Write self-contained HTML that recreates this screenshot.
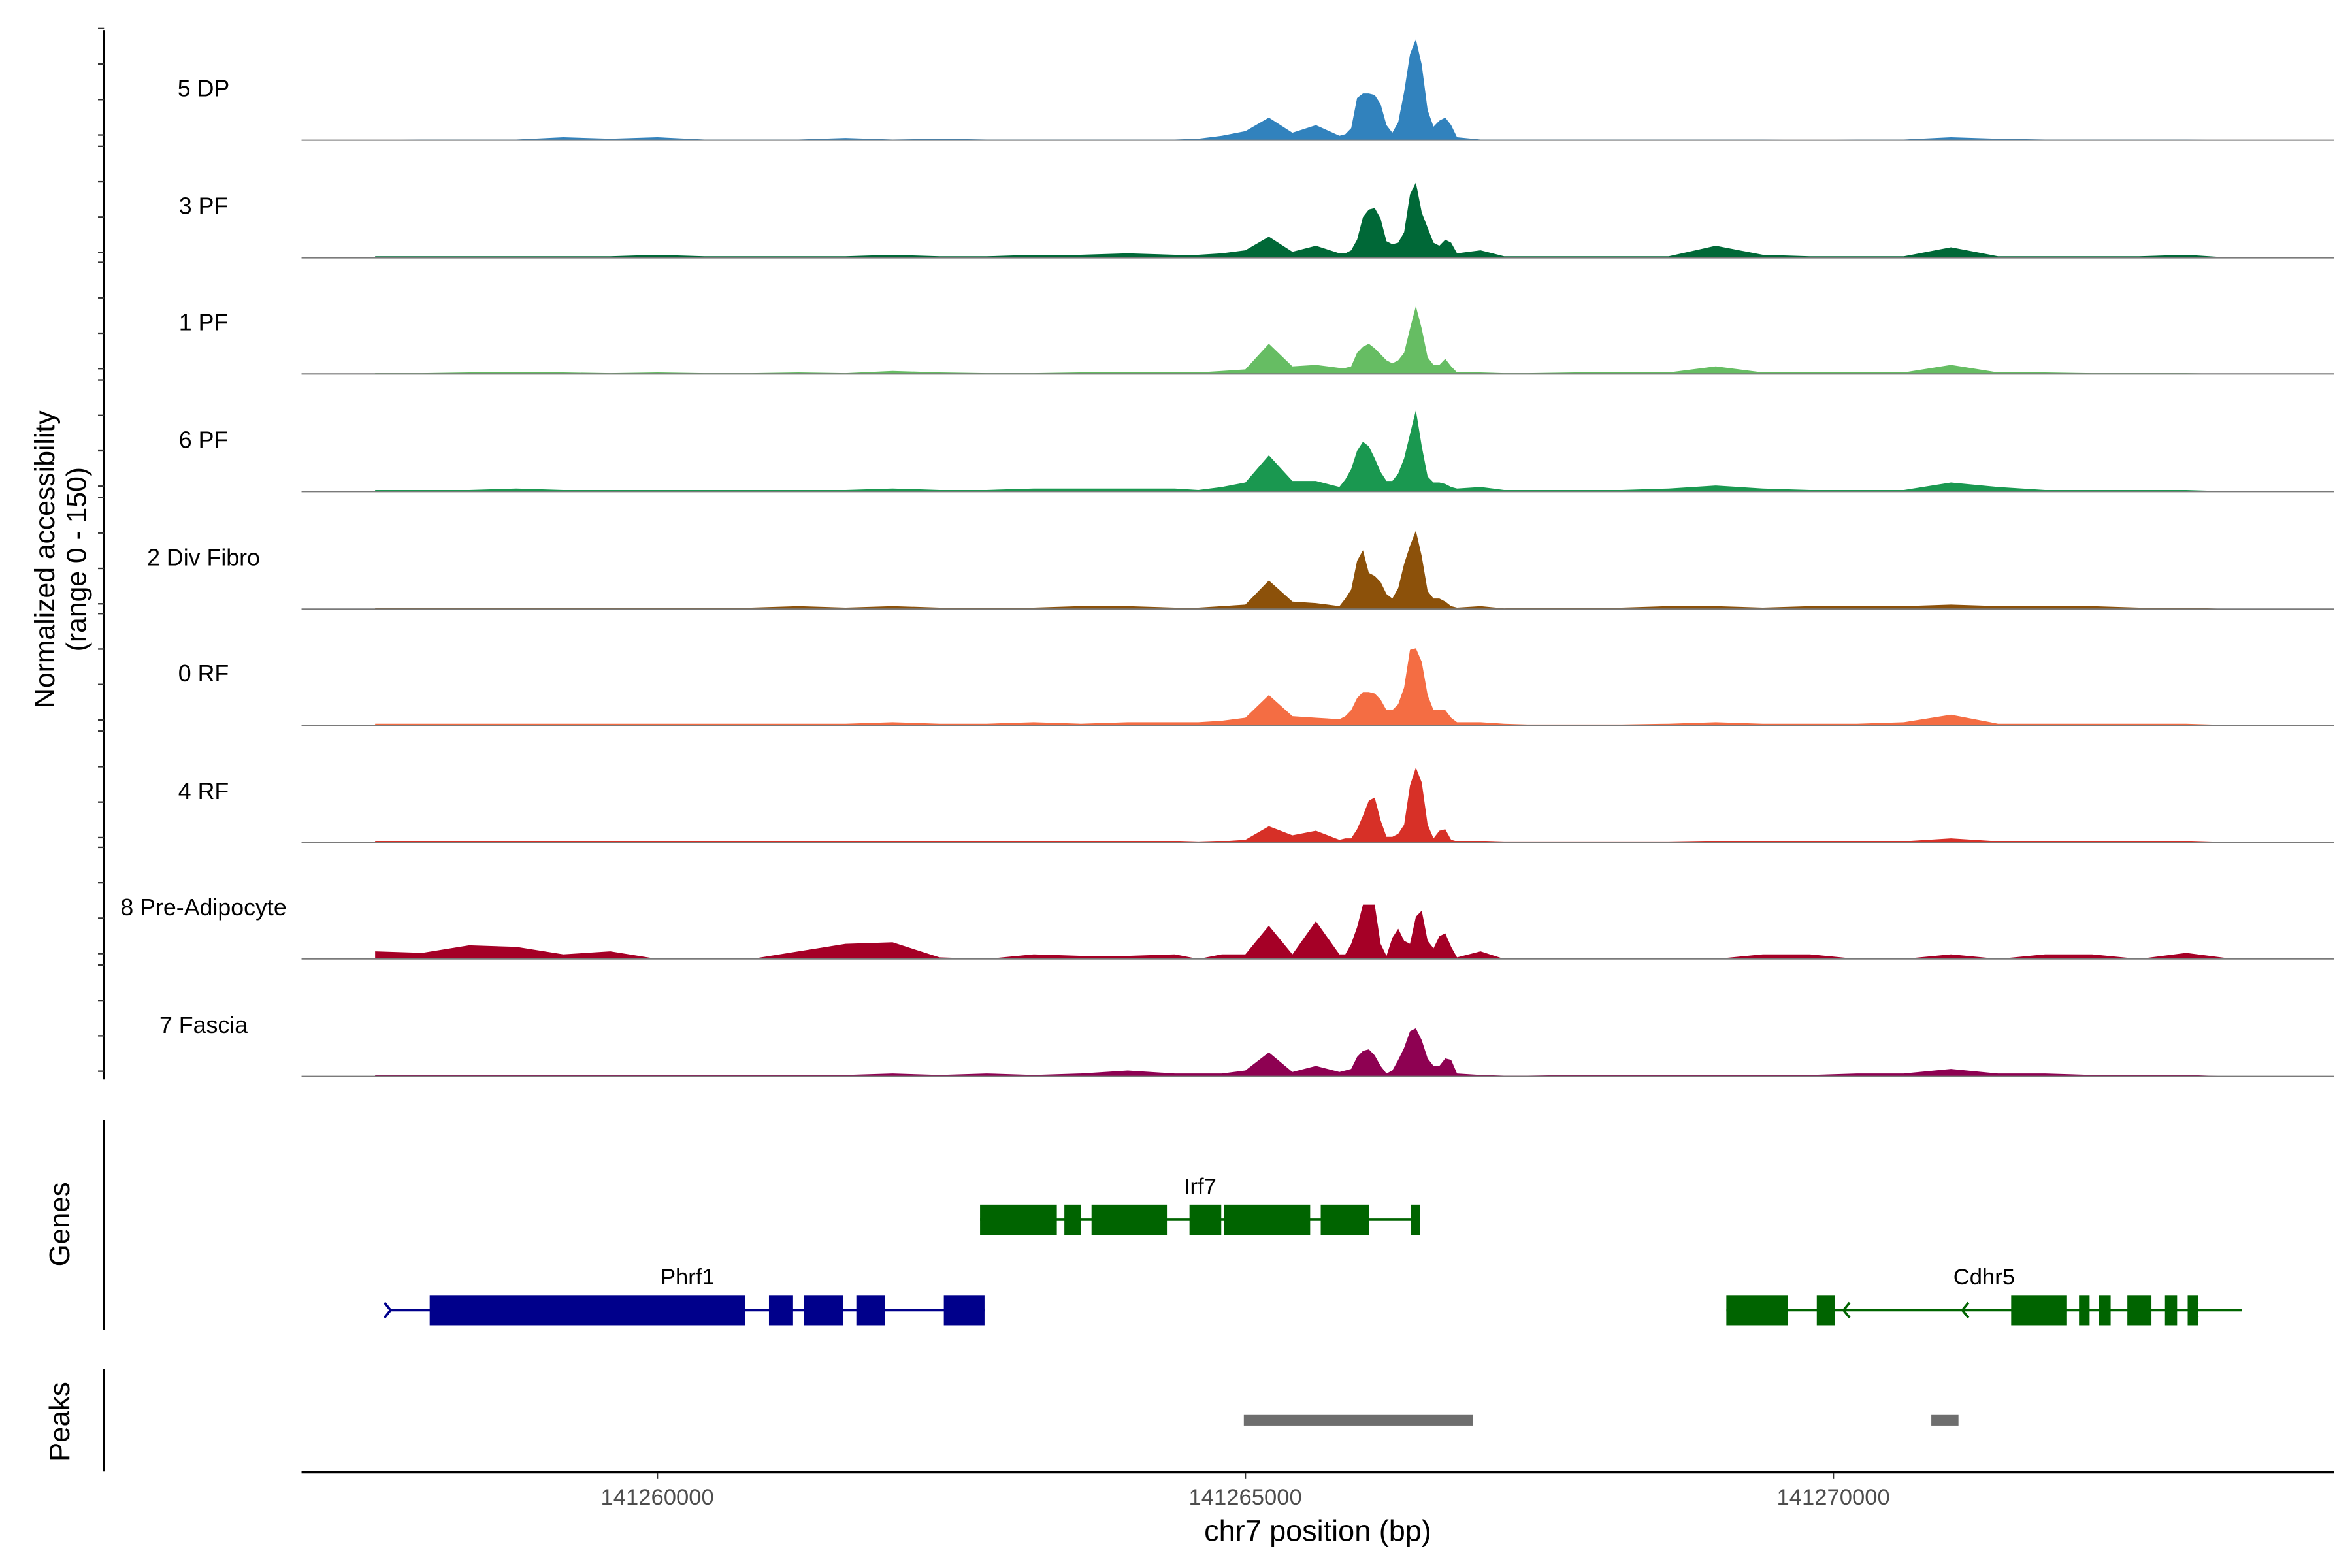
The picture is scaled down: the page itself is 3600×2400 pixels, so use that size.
<!DOCTYPE html>
<html><head><meta charset="utf-8">
<style>
html,body{margin:0;padding:0;background:#fff;}
svg{display:block;}
text{font-family:"Liberation Sans",Arial,sans-serif;}
</style></head>
<body>
<svg id="chart" xmlns="http://www.w3.org/2000/svg" width="3600" height="2400" viewBox="0 0 1560 1040">
<rect x="0" y="0" width="1560" height="1040" fill="#fff"/>
</svg>
<script>
// ---- data ----
const START = 141257600;
const positions = [
 0,400,800,1200,1600,2000,2400,2800,3200,3600,4000,4400,4800,5200,5600,6000,6400,6800,
 7000,7200,7400,7600,7800,8000,
 8200,8250,8300,8350,8400,8450,8500,8550,8600,8650,8700,8750,8800,8850,8900,8950,9000,9050,9100,9150,9200,
 9400,9600,9800,
 10200,10600,11000,11400,11800,12200,12600,13000,13400,13800,14200,14600,15000,15400,15800,16200
];
const trackNames = ["5 DP","3 PF","1 PF","6 PF","2 Div Fibro","0 RF","4 RF","8 Pre-Adipocyte","7 Fascia"];
const trackColors = ["#3182bd","#006837","#66bd63","#1a9850","#8c510a","#f46d43","#d73027","#a50026","#8e0152"];
const dp5 = [0,1,1,1,4,2,4,1,1,1,3,1,2,1,1,1,1,1, 2,6,12,30,10,20, 6,8,16,56,62,62,60,48,20,10,24,64,114,134,100,40,18,26,30,20,4, 1,1,1, 1,1,1,1,1,0,1,1,4,2,1,1,1,1,0,0];
const pf3 = [2,2,2,2,2,2,4,2,2,2,2,4,2,2,4,4,6,4, 4,6,10,28,8,16, 6,6,10,24,54,64,66,52,22,18,20,34,84,100,60,40,20,16,24,20,6, 10,2,2, 2,2,2,16,4,2,2,2,14,2,2,2,2,4,0,0];
const pf1 = [1,1,2,2,2,1,2,1,1,2,1,4,2,1,1,2,2,2, 2,4,6,40,10,12, 8,8,10,28,36,40,34,26,18,14,18,28,60,90,60,22,12,12,20,10,2, 2,1,1, 2,2,2,10,2,2,2,2,12,2,2,1,1,1,0,0];
const pf6 = [2,2,2,4,2,2,2,2,2,2,2,4,2,2,4,4,4,4, 2,6,12,48,14,14, 6,16,30,54,66,60,44,26,14,14,24,44,76,108,60,20,12,12,10,6,4, 6,2,2, 2,2,4,8,4,2,2,2,12,6,2,2,2,2,0,0];
const divfibro2 = [2,2,2,2,2,2,2,2,2,4,2,4,2,2,2,4,4,2, 2,4,6,38,10,8, 4,14,26,64,78,48,44,36,20,14,28,60,84,104,70,24,14,14,10,4,2, 4,1,2, 2,2,4,4,2,4,4,4,6,4,4,4,2,2,0,0];
const rf0 = [2,2,2,2,2,2,2,2,2,2,2,4,2,2,4,2,4,4, 4,6,10,40,12,10, 8,12,20,36,44,44,42,34,20,20,28,50,100,102,84,40,20,20,20,10,4, 4,2,1, 1,1,2,4,2,2,2,4,14,2,2,2,2,2,0,0];
const rf4 = [2,2,2,2,2,2,2,2,2,2,2,2,2,2,2,2,2,2, 1,2,4,22,10,16, 4,6,6,18,36,56,60,30,8,8,12,24,76,100,80,24,6,16,18,4,2, 2,1,1, 1,1,1,2,2,2,2,2,6,2,2,2,2,2,0,0];
const preadipo8 = [10,8,18,16,6,10,0,0,0,10,20,22,2,0,6,4,4,6, 0,6,6,44,6,50, 6,6,20,42,72,72,72,20,4,28,40,24,20,56,64,24,14,30,34,16,2, 10,0,0, 0,0,0,0,6,6,0,0,6,0,6,6,0,8,0,0];
const fascia7 = [2,2,2,2,2,2,2,2,2,2,2,4,2,4,2,4,8,4, 4,4,8,32,6,14, 6,8,10,26,34,36,28,14,4,8,22,38,60,64,48,24,14,14,24,22,4, 2,1,1, 2,2,2,2,2,2,4,4,10,4,4,2,2,2,0,0];
const trackValues = [dp5,pf3,pf1,pf6,divfibro2,rf0,rf4,preadipo8,fascia7];

const xTicks = [141260000,141265000,141270000];
const xTickLabels = ["141260000","141265000","141270000"];

const geneNames = ["Irf7","Phrf1","Cdhr5"];
const geneColors = ["#006400","#00008b","#006400"];
const geneRows = [0,1,1];
const geneSpans = [[141262744,141266487],[141257718,141262782],[141269090,141273474]];
const irf7Exons = [[141262744,141263397],[141263461,141263602],[141263692,141264333],[141264525,141264795],[141264820,141265551],[141265641,141266051],[141266410,141266487]];
const phrf1Exons = [[141258064,141260744],[141260949,141261154],[141261244,141261577],[141261692,141261936],[141262436,141262782]];
const cdhr5Exons = [[141269090,141269615],[141269859,141270012],[141271512,141271987],[141272089,141272179],[141272256,141272358],[141272500,141272705],[141272820,141272923],[141273013,141273102]];
const geneExons = [irf7Exons,phrf1Exons,cdhr5Exons];
const geneArrowsFwd = [[],[141257718,141261757],[]];
const geneArrowsRev = [[],[],[141270100,141271110,141273060]];
const peakStarts = [141264987,141270833];
const peakEnds = [141266936,141271064];

// ---- scales ----
const NS = "http://www.w3.org/2000/svg";
const svg = document.getElementById("chart");
function xs(bp){ return 436 + (bp - 141260000) * 0.078; }
const YMAX = 150, TRACK_H = 75;
const baselines = [93,171,248,326,404,481,559,636,714];
function ys(v, i){ return baselines[i] - v / YMAX * TRACK_H; }
function mk(tag, attrs, parent){
  const e = document.createElementNS(NS, tag);
  for (const k in attrs) e.setAttribute(k, attrs[k]);
  (parent || svg).appendChild(e);
  return e;
}

// left axis for tracks
const ax = mk("line",{x1:69,y1:20,x2:69,y2:716,stroke:"#000","stroke-width":1.4});


baselines.forEach((b)=>{
  const top = b - 74;
  [0,23.5,47,70.5].forEach(o=>{
    const t = mk("line",{x1:65,y1:top+o,x2:69,y2:top+o,stroke:"#333","stroke-width":1});
    
    
  });
});
const yt1 = mk("text",{x:0,y:0,"font-size":18.5,"text-anchor":"middle",transform:"translate(36,371) rotate(-90)",fill:"#000"});
yt1.textContent = "Normalized accessibility";


const yt2 = mk("text",{x:0,y:0,"font-size":18.5,"text-anchor":"middle",transform:"translate(57,371) rotate(-90)",fill:"#000"});
yt2.textContent = "(range 0 - 150)";



// tracks
trackValues.forEach((vals,i)=>{
  const g = mk("g",{});
  
  
  let d = "M" + xs(START+positions[0]).toFixed(1) + "," + baselines[i];
  positions.forEach((p,j)=>{ d += " L" + xs(START+p).toFixed(1) + "," + ys(vals[j],i).toFixed(1); });
  d += " L" + xs(START+positions[positions.length-1]).toFixed(1) + "," + baselines[i] + " Z";
  const a = mk("path",{d:d,fill:trackColors[i],stroke:"none"},g);
  
  
  const bl = mk("line",{x1:200,y1:baselines[i],x2:1548,y2:baselines[i],stroke:"#7a7a7a","stroke-width":0.9},g);
  
  
  const lb = mk("text",{x:135,y:baselines[i]-29,"font-size":15.5,"text-anchor":"middle",fill:"#000"},g);
  lb.textContent = trackNames[i];
  
  
});

// genes panel
const gax = mk("line",{x1:69,y1:743,x2:69,y2:882,stroke:"#000","stroke-width":1.4});


const gt = mk("text",{x:0,y:0,"font-size":19,"text-anchor":"middle",transform:"translate(46,812) rotate(-90)",fill:"#000"});
gt.textContent = "Genes";


const rowY = [809,869];
geneNames.forEach((n,i)=>{
  const g = mk("g",{});
  
  
  const y = rowY[geneRows[i]], c = geneColors[i];
  const ln = mk("line",{x1:xs(geneSpans[i][0]),y1:y,x2:xs(geneSpans[i][1]),y2:y,stroke:c,"stroke-width":1.6},g);
  
  
  geneExons[i].forEach(e=>{
    const r = mk("rect",{x:xs(e[0]),y:y-10,width:Math.max(1.5,xs(e[1])-xs(e[0])),height:20,fill:c},g);
    
    
  });
  geneArrowsFwd[i].forEach(p=>{
    const x = xs(p);
    const ar = mk("path",{d:`M${x-3},${y-5} L${x+1},${y} L${x-3},${y+5}`,fill:"none",stroke:c,"stroke-width":1.6},g);
    
    
  });
  geneArrowsRev[i].forEach(p=>{
    const x = xs(p);
    const ar = mk("path",{d:`M${x+3},${y-5} L${x-1},${y} L${x+3},${y+5}`,fill:"none",stroke:c,"stroke-width":1.6},g);
    
    
  });
});
const labelX = [796,456,1316];
geneNames.forEach((n,i)=>{
  const t = mk("text",{x:labelX[i],y:rowY[geneRows[i]]-17,"font-size":15,"text-anchor":"middle",fill:"#000"});
  t.textContent = n;
  
  
});

// peaks panel
const pax = mk("line",{x1:69,y1:908,x2:69,y2:976,stroke:"#000","stroke-width":1.4});


const pt = mk("text",{x:0,y:0,"font-size":19,"text-anchor":"middle",transform:"translate(46,943) rotate(-90)",fill:"#000"});
pt.textContent = "Peaks";


peakStarts.forEach((s,i)=>{
  const r = mk("rect",{x:xs(s),y:938.5,width:xs(peakEnds[i])-xs(s),height:7,fill:"#6e6e6e"});
  
  
});

// x axis
const xa = mk("line",{x1:200,y1:976.5,x2:1548,y2:976.5,stroke:"#000","stroke-width":1.6});


xTicks.forEach((t,i)=>{
  const x = xs(t);
  const tk = mk("line",{x1:x,y1:977,x2:x,y2:981,stroke:"#333","stroke-width":1});
  
  
  const tl = mk("text",{x:x,y:998,"font-size":15,"text-anchor":"middle",fill:"#4d4d4d"});
  tl.textContent = xTickLabels[i];
  
  
});
const xt = mk("text",{x:874,y:1022,"font-size":19.5,"text-anchor":"middle",fill:"#000"});
xt.textContent = "chr7 position (bp)";


</script>
</body></html>
